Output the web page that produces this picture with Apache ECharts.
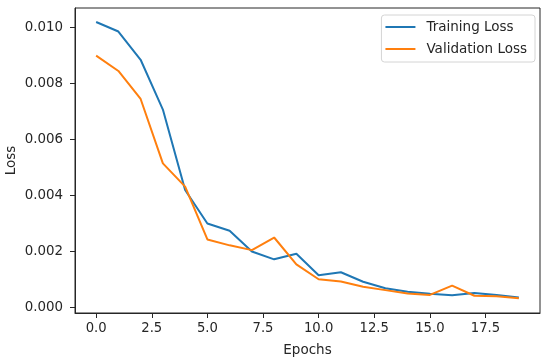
<!DOCTYPE html>
<html><head><meta charset="utf-8">
<script src="https://cdn.jsdelivr.net/npm/echarts@6/dist/echarts.min.js"></script>
<style>html,body{margin:0;padding:0;background:#fff}#c{width:550px;height:362px}</style>
</head><body><div id="c"></div>
<script>
const epochs = [0,1,2,3,4,5,6,7,8,9,10,11,12,13,14,15,16,17,18,19];
const trainingLoss = [0.0102,0.00986,0.00885,0.00707,0.0042,0.00300,0.00274,0.00200,0.00172,0.00192,0.00115,0.00126,0.00092,0.00069,0.00056,0.00049,0.00044,0.00052,0.00045,0.00036];
const validationLoss = [0.00900,0.00845,0.00745,0.00515,0.00432,0.00243,0.00222,0.00205,0.00250,0.00154,0.00101,0.00093,0.00074,0.00062,0.00050,0.00045,0.00078,0.00042,0.00040,0.00033];
const xTicks = [0,2.5,5,7.5,10,12.5,15,17.5];
const yTicks = [0,0.002,0.004,0.006,0.008,0.010];

const font = 'DejaVu Sans';
const chart = echarts.init(document.getElementById('c'));
chart.setOption({
  animation:false,
  grid:{left:75,right:10,top:8,bottom:49,outerBoundsMode:'none',containLabel:false,show:true,borderColor:'#262626',borderWidth:1,backgroundColor:'transparent'},
  legend:{
    orient:'vertical', right:15, top:15,
    data:['Training Loss','Validation Loss'],
    itemWidth:30, itemHeight:2, itemGap:8, icon:'rect',
    backgroundColor:'#fff', borderColor:'#d4d4d4', borderWidth:1, borderRadius:3,
    padding:[5,8,6,4],
    textStyle:{fontFamily:font,fontSize:13.5,lineHeight:14,color:'#262626',padding:[0,0,0,6]}
  },
  xAxis:{
    type:'value', min:-0.95, max:19.95,
    name:'Epochs', nameLocation:'middle', nameGap:30, nameMoveOverlap:false,
    nameTextStyle:{fontFamily:font,fontSize:13.5,color:'#262626'},
    axisLine:{show:true,onZero:false,lineStyle:{color:'#262626'}},
    axisTick:{show:true,length:5,customValues:xTicks,lineStyle:{color:'#262626'}},
    axisLabel:{customValues:xTicks,fontFamily:font,fontSize:13.2,color:'#262626',margin:9,formatter:v=>v.toFixed(1)},
    splitLine:{show:false}
  },
  yAxis:{
    type:'value', min:-0.000197, max:0.0107,
    name:'Loss', nameLocation:'middle', nameGap:57, nameMoveOverlap:false,
    nameTextStyle:{fontFamily:font,fontSize:13.5,color:'#262626'},
    axisLine:{show:true,onZero:false,lineStyle:{color:'#262626'}},
    axisTick:{show:true,length:5,customValues:yTicks,lineStyle:{color:'#262626'}},
    axisLabel:{customValues:yTicks,fontFamily:font,fontSize:13.4,color:'#262626',margin:12,formatter:v=>v.toFixed(3)},
    splitLine:{show:false}
  },
  series:[
    {name:'Training Loss',type:'line',showSymbol:false,color:'#1f77b4',lineStyle:{width:2,color:'#1f77b4'},
     data:epochs.map((e,i)=>[e,trainingLoss[i]])},
    {name:'Validation Loss',type:'line',showSymbol:false,color:'#ff7f0e',lineStyle:{width:2,color:'#ff7f0e'},
     data:epochs.map((e,i)=>[e,validationLoss[i]])}
  ]
});
</script></body></html>
